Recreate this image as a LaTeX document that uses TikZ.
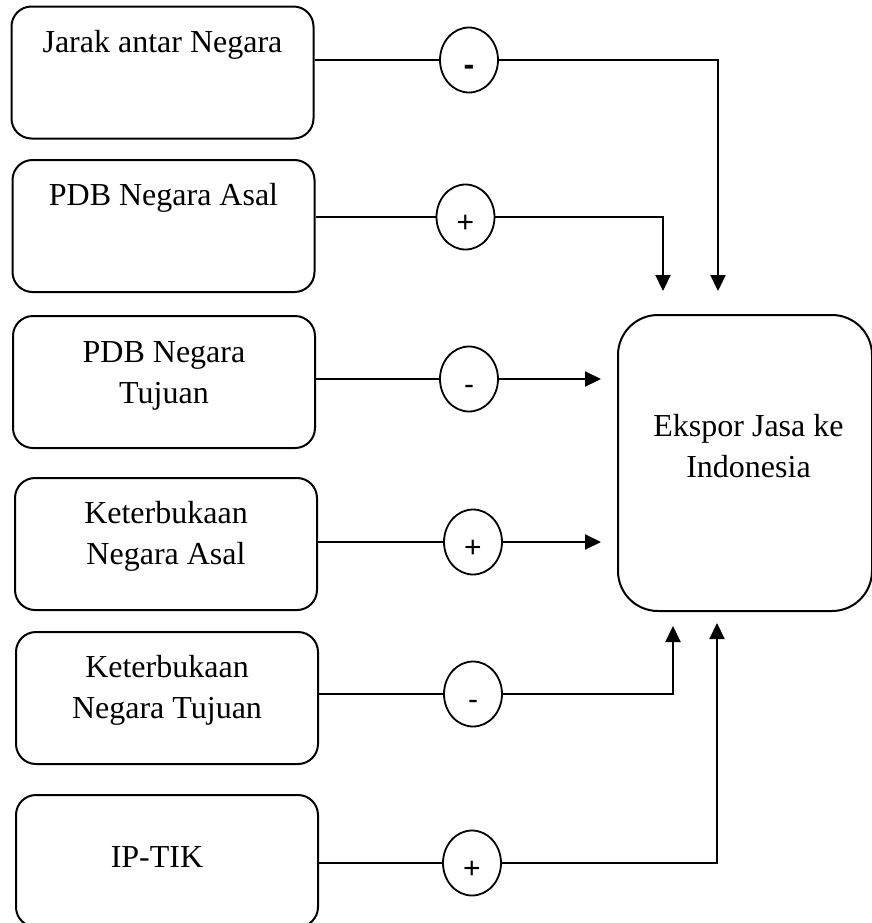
\documentclass[tikz,border=0pt]{standalone}
\usepackage{fontspec}
\setmainfont{Liberation Serif}
\newfontfamily\signfont{Liberation Sans}
\usetikzlibrary{shapes.geometric,arrows.meta,positioning}

\begin{document}
\begin{tikzpicture}[x=0.5pt, y=-0.5pt,
  box/.style={rectangle, rounded corners=10pt, draw=black, line width=1pt,
              minimum width=151pt, minimum height=66pt},
  bigbox/.style={rectangle, rounded corners=20pt, draw=black, line width=1pt,
                 minimum width=127pt, minimum height=148pt},
  txt/.style={inner sep=0pt, align=center, font=\fontsize{16}{20.5}\selectfont},
  sign/.style={ellipse, draw=black, line width=0.9pt, minimum width=29pt,
               minimum height=32.5pt, inner sep=0pt, text height=15pt, text depth=0pt,
               font=\signfont\fontsize{15}{15}\selectfont},
  line/.style={line width=0.8pt},
  arr/.style={-{Triangle[length=8pt,width=7.5pt]}, line width=1.1pt}
]
\useasboundingbox (0,0) rectangle (872,923);

%% ---- LEFT: factor boxes ----
\node[box] (jarak) at (162.5,72.5) {};
\node[box] (pdbA)  at (163.5,226)  {};
\node[box] (pdbT)  at (164,382)    {};
\node[box] (bukaA) at (166,544)    {};
\node[box] (bukaT) at (167,698)    {};
\node[box] (iptik) at (167,861)    {};

\node[txt, below=12.1pt of jarak.north] (jarakT) {Jarak antar Negara};
\node[txt, below=12.1pt of pdbA.north]  (pdbAT)  {PDB Negara Asal};
\node[txt, below=12.9pt of pdbT.north]  (pdbTT)  {PDB Negara\\Tujuan};
\node[txt, below=12.1pt of bukaA.north] (bukaAT) {Keterbukaan\\Negara Asal};
\node[txt, below=12.1pt of bukaT.north] (bukaTT) {Keterbukaan\\Negara Tujuan};
\node[txt, below=25.9pt of iptik.north, xshift=-5pt] (iptikT) {IP-TIK};

%% ---- RIGHT: target box ----
\node[bigbox] (ekspor) at (745,463) {};
\node[txt, below=50.1pt of ekspor.north, xshift=1.75pt] (eksporT) {Ekspor Jasa ke\\Indonesia};

%% ---- signs ----
\node[sign, font=\signfont\bfseries\fontsize{16}{16}\selectfont] (s1) at (469,60) {-};
\node[sign] (s2) at (465.5,217) {+};
\node[sign] (s3) at (469,379)   {-};
\node[sign] (s4) at (473,542)   {+};
\node[sign] (s5) at (473,694)   {-};
\node[sign] (s6) at (472,863)   {+};

%% ---- box to sign ----
\draw[line] (jarak.east |- s1.west) -- (s1.west);
\draw[line] (pdbA.east |- s2.west)  -- (s2.west);
\draw[line] (pdbT.east |- s3.west)  -- (s3.west);
\draw[line] (bukaA.east |- s4.west) -- (s4.west);
\draw[line] (bukaT.east |- s5.west) -- (s5.west);
\draw[line] (iptik.east |- s6.west) -- (s6.west);

%% ---- sign to target ----
\draw[arr] (s1.east) -| ([xshift=-13.5pt, yshift=11.5pt]ekspor.north);
\draw[arr] (s2.east) -| ([xshift=-41pt, yshift=11.5pt]ekspor.north);
\draw[arr, shorten >=8pt] (s3.east) -- (s3.east -| ekspor.west);
\draw[arr, shorten >=8pt] (s4.east) -- (s4.east -| ekspor.west);
\draw[arr] (s5.east) -| ([xshift=-36pt, yshift=-7pt]ekspor.south);
\draw[arr] (s6.east) -| ([xshift=-14pt, yshift=-5.5pt]ekspor.south);

\end{tikzpicture}
\end{document}
